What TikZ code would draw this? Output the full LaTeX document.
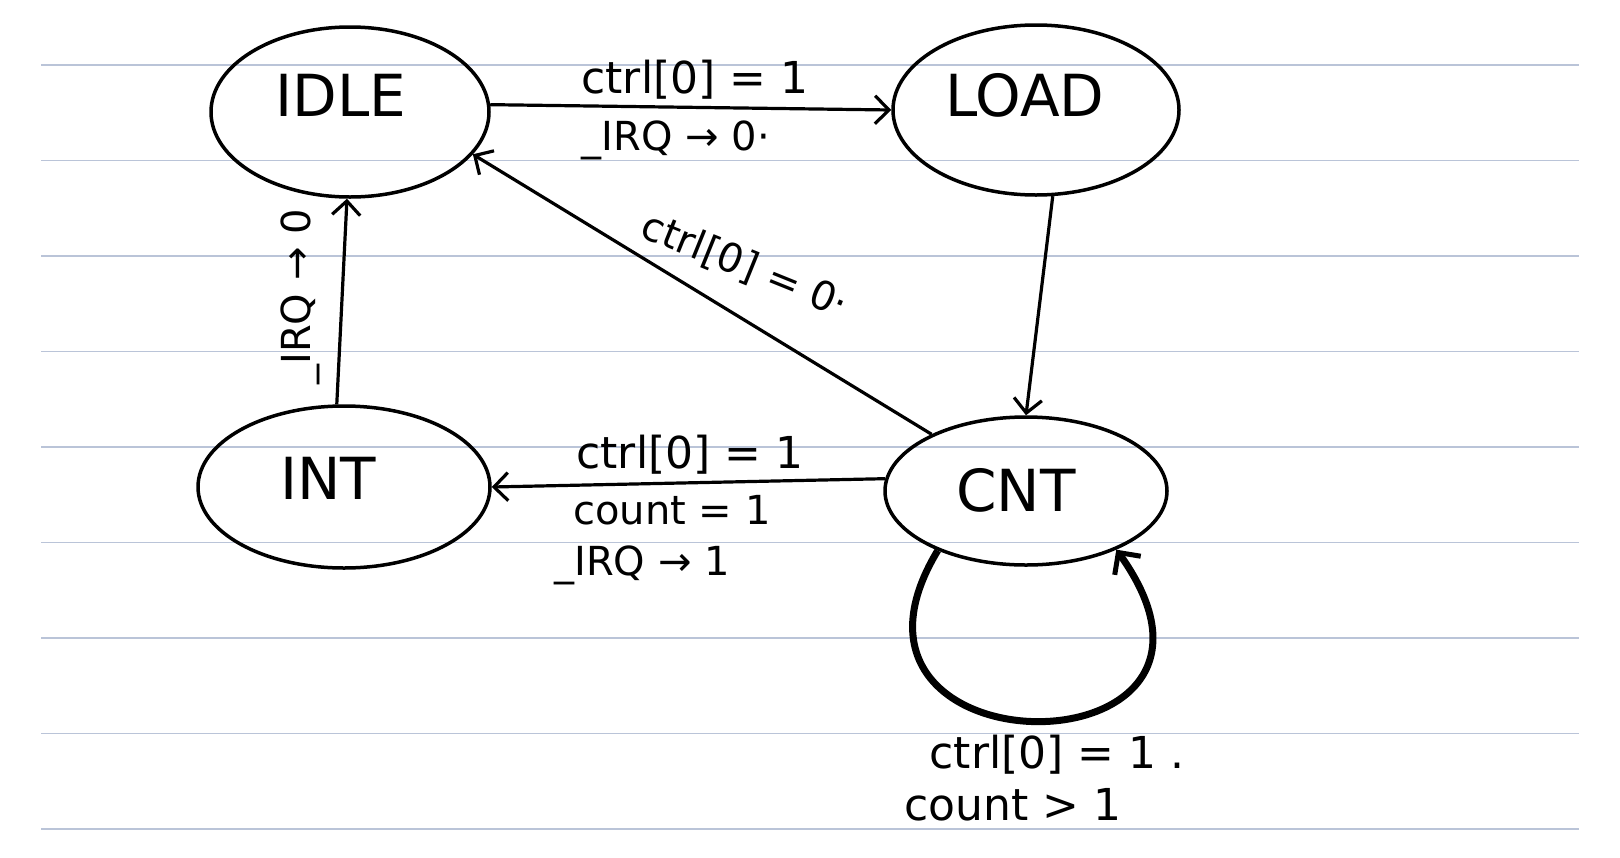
\documentclass[tikz,border=0pt]{standalone}
\usepackage{fontspec}
\setmainfont{DejaVu Sans}
\usetikzlibrary{arrows.meta,shapes.geometric}
\definecolor{ruled}{RGB}{186,196,216}
\tikzset{
  statebox/.style={draw, ellipse, line width=3.5pt, inner sep=0pt},
  statename/.style={inner sep=0pt, font=\fontsize{58}{60}\selectfont},
  edge/.style={draw, line width=3.2pt, -{Straight Barb[length=14pt,width=28pt,line width=3.2pt]}},
  loopedge/.style={draw, line width=7pt, -{Straight Barb[length=16pt,width=32pt,line width=5pt]}},
  lab/.style={inner sep=0pt, font=\fontsize{44}{46}\selectfont},
  smalllab/.style={inner sep=0pt, font=\fontsize{40}{42}\selectfont},
  ruleline/.style={draw=ruled, line width=1.5pt}
}
\begin{document}
\begin{tikzpicture}[x=1pt,y=-1pt]
\useasboundingbox (0,0) rectangle (1620,857);
\fill[white] (0,0) rectangle (1620,857);
% ruled paper
\foreach \yy in {65,160.5,256,351.5,447,542.5,638,733.5,829}
  \draw[ruleline] (41,\yy) -- (1579,\yy);
% states
\node[statebox, minimum width=278pt, minimum height=170pt] (IDLE) at (350,112) {};
\node[statename] (IDLEt) at (341,95) {IDLE};
\node[statebox, minimum width=286pt, minimum height=170pt] (LOAD) at (1036,110) {};
\node[statename] (LOADt) at (1025,95) {LOAD};
\node[statebox, minimum width=292pt, minimum height=162pt] (INT) at (344,487) {};
\node[statename] (INTt) at (328,478) {INT};
\node[statebox, minimum width=282pt, minimum height=148pt] (CNT) at (1026,491) {};
\node[statename] (CNTt) at (1016,490) {CNT};
% transitions
\draw[edge] (IDLE.3) -- (LOAD.west);
\draw[edge] (LOAD.-79) -- (CNT.north);
\draw[edge] (CNT.149) -- (IDLE.-19);
\draw[edge] (CNT.175) -- (INT.east);
\draw[edge] (INT.95) -- (IDLE.268);
\draw[loopedge] (CNT.214) .. controls (800,778) and (1280,778) .. (CNT.-33);
% labels
\node[lab] (l1) at (695,80) {ctrl[0] = 1};
\node[smalllab] (l2) at (676,140) {\_IRQ → 0·};
\node[smalllab, rotate=-22] (l3) at (745,266) {ctrl[0] = 0·};
\node[smalllab, rotate=90] (l4) at (300,297) {\_IRQ → 0};
\node[lab] (l5) at (690,455) {ctrl[0] = 1};
\node[smalllab] (l6) at (672,510) {count = 1};
\node[smalllab] (l7) at (642,565) {\_IRQ → 1};
\node[lab] (l8) at (1057,755) {ctrl[0] = 1 .};
\node[lab] (l9) at (1013,805) {count > 1};
\end{tikzpicture}
\end{document}
